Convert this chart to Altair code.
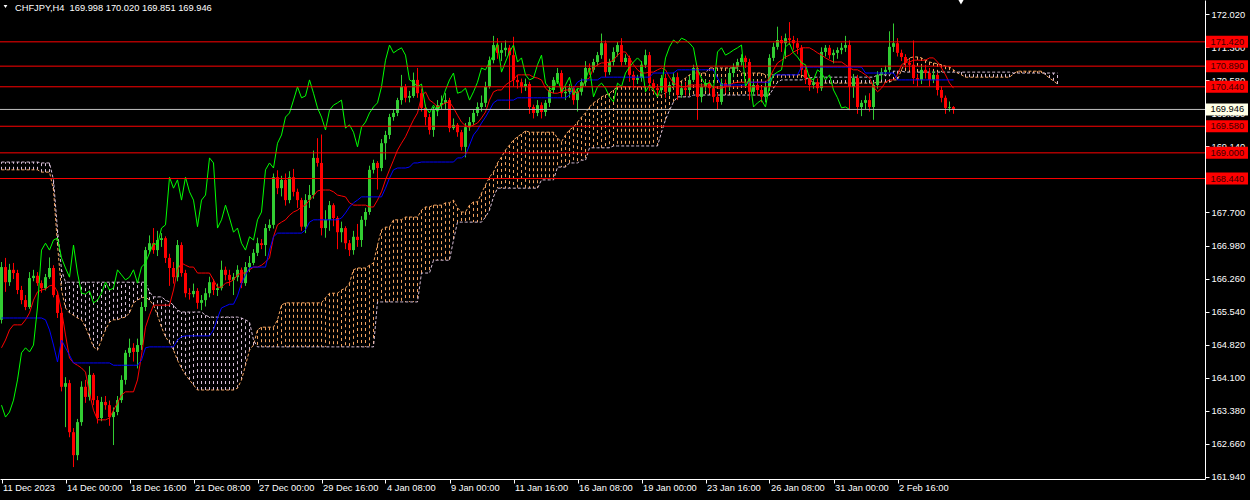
import json
import altair as alt
import pandas as pd

# ---- page: black background, no white margin around the chart ----
try:
    import altair.utils.html as _html
    _std_template = _html.TEMPLATES["standard"]

    class _BlackPage:
        def render(self, *args, **kwargs):
            out = _std_template.render(*args, **kwargs)
            css = "html, body { margin: 0; padding: 0; background: #000000; overflow: hidden; }\n"
            if "<style>" in out:
                return out.replace("<style>", "<style>\n" + css, 1)
            return out.replace("</head>", "<style>" + css + "</style></head>", 1)

    _html.TEMPLATES["standard"] = _BlackPage()
except Exception:
    pass

# ---------------- data ----------------
title_text = "CHFJPY,H4\u00a0 169.998 170.020 169.851 169.946"
first_open = 165.36

close = [
    166.51, 166.18, 166.45, 166.38, 166.01, 165.79, 165.64, 166.27, 166.32, 166.16,
    166.05, 166.29, 166.49, 165.90, 165.51, 163.90, 163.98, 162.91, 162.41, 163.13,
    163.90, 163.68, 164.16, 163.61, 163.22, 163.57, 163.50, 163.24, 163.35, 163.61,
    164.05, 164.64, 164.75, 164.66, 164.81, 165.64, 166.88, 167.03, 166.88, 167.10,
    167.14, 166.71, 166.49, 166.29, 166.99, 166.38, 165.94, 165.92, 165.99, 165.73,
    165.79, 165.94, 166.18, 166.01, 166.05, 166.45, 166.34, 166.23, 166.29, 166.45,
    166.16, 166.51, 166.60, 166.82, 167.03, 166.99, 167.36, 167.43, 168.47, 168.23,
    168.41, 167.97, 168.47, 168.15, 167.97, 167.39, 167.97, 168.08, 168.89, 168.78,
    167.36, 167.54, 167.86, 167.58, 167.27, 167.36, 167.03, 166.88, 167.17, 167.10,
    167.54, 167.71, 168.63, 168.78, 168.67, 169.21, 169.39, 169.78, 169.87, 170.15,
    170.44, 170.20, 170.24, 170.59, 170.30, 169.98, 169.78, 169.50, 169.93, 170.04,
    170.09, 170.15, 169.54, 169.61, 169.45, 169.13, 169.56, 169.67, 169.87, 170.00,
    170.09, 170.44, 171.02, 171.35, 171.18, 171.24, 171.29, 171.13, 170.59, 170.54,
    170.44, 170.50, 170.00, 169.87, 170.04, 169.89, 170.09, 170.37, 170.59, 170.74,
    170.30, 170.33, 170.41, 170.15, 170.33, 170.54, 170.85, 170.81, 170.98, 171.13,
    171.39, 170.76, 170.98, 171.20, 171.35, 170.98, 171.07, 170.70, 170.59, 170.63,
    170.92, 171.13, 170.52, 170.41, 170.37, 170.63, 170.33, 170.48, 170.65, 170.26,
    170.41, 170.37, 170.59, 170.85, 170.22, 170.44, 170.52, 170.41, 170.22, 170.11,
    170.52, 170.44, 170.74, 170.87, 170.98, 171.07, 170.98, 170.33, 170.48, 170.37,
    170.22, 170.44, 171.07, 171.31, 171.46, 171.39, 171.50, 171.46, 171.39, 171.29,
    170.81, 170.63, 170.48, 170.54, 170.41, 171.20, 171.29, 171.13, 171.18, 171.24,
    171.29, 171.35, 170.44, 170.63, 170.00, 170.09, 170.15, 170.00, 170.48, 170.70,
    170.76, 170.81, 171.31, 171.39, 171.18, 171.09, 170.96, 170.92, 170.63, 170.59,
    170.81, 170.74, 170.59, 170.70, 170.37, 170.20, 169.98, 170.00, 169.946,
]

high = [
    166.62, 166.71, 166.58, 166.60, 166.45, 166.10, 165.90, 166.40, 166.45, 166.40,
    166.22, 166.36, 166.72, 166.55, 165.98, 165.62, 164.11, 164.05, 163.00, 163.20,
    164.02, 164.05, 164.35, 164.20, 163.70, 163.68, 163.70, 163.60, 163.45, 163.70,
    164.15, 164.70, 164.95, 164.85, 164.95, 165.75, 166.95, 167.20, 167.36, 167.30,
    167.25, 167.18, 166.80, 166.62, 167.10, 167.05, 166.45, 166.05, 166.15, 166.05,
    165.90, 166.05, 166.30, 166.25, 166.15, 166.65, 166.52, 166.45, 166.38, 166.55,
    166.50, 166.62, 166.75, 166.90, 167.15, 167.12, 167.45, 167.55, 168.55, 168.62,
    168.50, 168.55, 168.60, 168.65, 168.22, 168.02, 168.10, 168.30, 169.05, 169.32,
    169.40, 167.75, 167.95, 167.90, 167.62, 167.50, 167.40, 167.10, 167.30, 167.45,
    167.62, 167.80, 168.72, 168.85, 168.82, 169.30, 169.48, 169.85, 169.95, 170.20,
    170.70, 170.50, 170.35, 170.75, 170.85, 170.40, 170.05, 169.85, 170.00, 170.15,
    170.25, 170.30, 170.20, 169.75, 169.65, 169.50, 169.65, 169.78, 169.95, 170.10,
    170.25, 170.55, 171.10, 171.55, 171.50, 171.40, 171.45, 171.35, 171.53, 170.70,
    170.62, 170.62, 170.55, 170.05, 170.15, 170.10, 170.15, 170.45, 170.65, 170.85,
    170.80, 170.45, 170.50, 170.45, 170.40, 170.62, 171.00, 170.95, 171.05, 171.20,
    171.60, 171.45, 171.05, 171.30, 171.42, 171.50, 171.15, 171.12, 170.78, 170.70,
    171.00, 171.25, 171.20, 170.60, 170.50, 170.70, 170.72, 170.55, 170.75, 170.75,
    170.50, 170.55, 170.68, 170.92, 170.90, 170.52, 170.60, 170.58, 170.45, 170.30,
    170.62, 170.60, 170.85, 170.95, 171.05, 171.15, 171.12, 171.05, 170.60, 170.55,
    170.45, 170.52, 171.15, 171.40, 171.75, 171.55, 171.60, 171.85, 171.55, 171.50,
    171.35, 170.90, 170.70, 170.62, 170.62, 171.30, 171.35, 171.35, 171.25, 171.30,
    171.40, 171.55, 171.45, 170.72, 170.70, 170.15, 170.25, 170.30, 170.55, 170.78,
    170.85, 170.90, 171.65, 171.82, 171.50, 171.25, 171.15, 171.05, 171.45, 170.72,
    170.90, 170.92, 170.85, 170.78, 170.75, 170.45, 170.25, 170.12, 170.020,
]

low = [
    165.28, 165.97, 166.10, 166.25, 165.92, 165.70, 165.57, 165.60, 166.20, 166.10,
    165.95, 166.00, 166.25, 165.85, 165.40, 163.80, 163.02, 162.80, 162.15, 162.30,
    163.05, 163.55, 163.60, 163.50, 163.10, 163.15, 163.40, 163.05, 162.63, 163.28,
    163.55, 163.95, 164.55, 164.45, 164.30, 164.70, 165.55, 166.80, 166.80, 166.75,
    166.95, 166.60, 166.10, 166.15, 166.20, 166.30, 165.85, 165.80, 165.85, 165.60,
    165.57, 165.65, 165.85, 165.90, 165.88, 166.00, 166.22, 166.10, 165.90, 166.20,
    166.05, 166.10, 166.40, 166.55, 166.75, 166.90, 166.75, 167.30, 167.35, 168.10,
    168.05, 167.85, 167.90, 168.05, 167.80, 167.30, 167.25, 167.80, 168.00, 168.70,
    167.20, 167.15, 167.30, 167.40, 166.90, 167.05, 166.90, 166.75, 166.78, 166.95,
    166.95, 167.40, 167.65, 168.55, 168.20, 168.60, 168.85, 169.30, 169.70, 169.80,
    170.05, 170.10, 170.10, 170.20, 170.20, 169.90, 169.60, 169.40, 169.35, 169.80,
    169.95, 169.95, 169.45, 169.50, 169.35, 169.05, 168.90, 169.48, 169.60, 169.80,
    169.90, 170.00, 170.40, 170.95, 171.05, 171.00, 171.10, 169.93, 170.45, 170.40,
    170.30, 170.35, 169.85, 169.75, 169.80, 169.75, 169.80, 170.00, 170.30, 170.50,
    170.20, 170.15, 170.20, 170.05, 169.90, 170.25, 170.45, 170.70, 170.75, 170.90,
    171.05, 170.65, 170.70, 170.90, 171.10, 170.90, 170.92, 170.55, 170.40, 170.50,
    170.55, 170.85, 170.35, 170.30, 170.25, 170.30, 170.20, 170.25, 170.40, 170.15,
    170.20, 170.25, 170.30, 170.55, 169.72, 170.10, 170.35, 170.30, 170.10, 169.95,
    170.05, 170.30, 170.35, 170.65, 170.80, 170.90, 170.85, 170.15, 170.25, 170.25,
    170.10, 170.10, 170.35, 171.00, 171.25, 171.20, 171.05, 171.35, 171.25, 171.15,
    170.70, 170.50, 170.35, 170.40, 170.30, 170.35, 171.10, 171.05, 170.95, 171.05,
    171.15, 171.20, 169.93, 170.20, 169.85, 169.80, 169.95, 169.90, 169.72, 170.40,
    170.60, 170.70, 170.75, 171.20, 171.10, 171.00, 170.85, 170.80, 170.50, 170.45,
    170.50, 170.62, 170.45, 170.52, 170.25, 170.10, 169.85, 169.90, 169.851,
]

# Ichimoku lines as [value, number of bars] runs
tenkan_runs = [
    [164.75, 1], [164.92, 1], [165.14, 1], [165.25, 3], [165.36, 1], [165.51, 1], [165.79, 1],
    [165.97, 1], [166.01, 1], [166.03, 1], [166.10, 1], [166.12, 1], [165.97, 1], [165.57, 1],
    [165.03, 1], [164.53, 1], [164.42, 1], [164.37, 1], [164.31, 1], [164.22, 1], [163.76, 1],
    [163.39, 1], [163.18, 3], [163.22, 1], [163.39, 1], [163.55, 1], [163.72, 1], [163.79, 3],
    [164.05, 1], [164.59, 1], [165.20, 1], [165.46, 1], [165.68, 5], [166.01, 1], [166.45, 1],
    [166.60, 1], [166.55, 1], [166.51, 2], [166.38, 4], [166.23, 1], [166.07, 2], [166.16, 1],
    [166.18, 1], [166.23, 1], [166.34, 1], [166.38, 2], [166.45, 1], [166.51, 2], [166.55, 1],
    [166.62, 1], [166.71, 1], [167.17, 1], [167.43, 1], [167.49, 1], [167.54, 1], [167.64, 1],
    [167.71, 1], [167.75, 1], [167.82, 1], [167.86, 1], [167.97, 1], [168.06, 1], [168.17, 1],
    [168.19, 3], [168.15, 1], [168.08, 1], [168.06, 1], [168.04, 1], [167.91, 1], [167.86, 4],
    [167.82, 2], [167.97, 1], [168.15, 1], [168.41, 1], [168.63, 1], [168.84, 1], [169.06, 1],
    [169.21, 1], [169.35, 1], [169.54, 1], [169.72, 1], [169.87, 1], [170.22, 1], [170.33, 1],
    [170.15, 1], [170.09, 1], [170.00, 1], [170.04, 1], [170.09, 1], [170.11, 1], [169.98, 1],
    [169.82, 1], [169.67, 1], [169.59, 1], [169.56, 1], [169.61, 1], [169.65, 1], [169.76, 1],
    [169.89, 1], [170.15, 1], [170.33, 1], [170.37, 2], [170.48, 1], [170.54, 1], [170.59, 1],
    [170.70, 4], [170.65, 1], [170.63, 1], [170.59, 1], [170.41, 1], [170.33, 1], [170.30, 2],
    [170.33, 1], [170.37, 2], [170.33, 1], [170.30, 1], [170.41, 1], [170.59, 1], [170.63, 1],
    [170.85, 1], [170.92, 1], [170.96, 2], [170.98, 1], [171.02, 1], [171.13, 1], [171.20, 2],
    [171.07, 1], [170.92, 1], [170.81, 1], [170.74, 2], [170.76, 2], [170.81, 1], [170.85, 1],
    [170.81, 1], [170.65, 1], [170.52, 1], [170.48, 1], [170.44, 2], [170.48, 6], [170.44, 1],
    [170.41, 2], [170.44, 1], [170.48, 1], [170.52, 1], [170.54, 8], [170.63, 1], [170.81, 1],
    [170.96, 1], [171.02, 1], [171.09, 1], [171.13, 1], [171.20, 1], [171.24, 1], [171.29, 3],
    [171.24, 1], [171.18, 1], [171.13, 1], [171.07, 1], [171.02, 1], [170.98, 3], [170.92, 1],
    [170.85, 1], [170.81, 2], [170.76, 1], [170.70, 1], [170.63, 1], [170.44, 1], [170.33, 1],
    [170.41, 1], [170.54, 1], [170.59, 2], [170.70, 1], [170.92, 1], [170.98, 2], [171.02, 4],
    [171.07, 2], [170.98, 1], [170.85, 1], [170.70, 1], [170.52, 1], [170.41, 1],
]

kijun_runs = [
    [165.40, 11], [165.36, 1], [165.14, 1], [164.81, 1], [164.44, 1], [164.92, 1], [164.75, 1],
    [164.59, 1], [164.42, 10], [164.37, 7], [164.48, 1], [164.75, 1], [164.77, 7], [164.92, 1],
    [164.99, 1], [165.01, 7], [165.14, 1], [165.40, 1], [165.62, 1], [165.66, 1], [165.70, 2],
    [165.88, 1], [166.16, 1], [166.34, 1], [166.49, 1], [166.51, 4], [166.88, 1], [167.17, 1],
    [167.25, 7], [167.32, 1], [167.49, 1], [167.54, 7], [167.58, 1], [167.69, 1], [167.82, 1],
    [167.91, 1], [167.97, 1], [168.04, 6], [168.23, 1], [168.45, 1], [168.63, 1], [168.67, 3],
    [168.69, 1], [168.78, 2], [168.80, 9], [168.89, 2], [168.95, 1], [169.17, 1], [169.39, 1],
    [169.50, 1], [169.65, 1], [169.78, 1], [169.93, 1], [170.09, 1], [170.15, 5], [170.20, 13],
    [170.26, 1], [170.41, 1], [170.54, 1], [170.59, 5], [170.65, 13], [170.74, 6], [170.81, 10],
    [170.63, 1], [170.48, 7], [170.54, 6], [170.70, 7], [170.87, 16], [170.74, 8], [170.59, 15],
]

span_a_runs = [
    [168.63, 10], [168.58, 3], [168.19, 1], [166.99, 1], [166.01, 1], [165.62, 1], [165.51, 1],
    [165.46, 1], [165.40, 1], [165.36, 1], [165.20, 1], [164.99, 1], [164.77, 1], [164.70, 1],
    [164.92, 1], [165.14, 1], [165.31, 1], [165.36, 2], [165.40, 1], [165.42, 1], [165.51, 1],
    [165.73, 1], [165.79, 1], [165.84, 1], [165.86, 1], [165.79, 1], [165.68, 1], [165.46, 1],
    [165.20, 1], [164.99, 1], [164.86, 1], [164.70, 1], [164.48, 1], [164.31, 1], [164.16, 1],
    [164.05, 1], [163.94, 1], [163.83, 10], [163.87, 1], [164.05, 1], [164.37, 1], [164.70, 1],
    [164.81, 1], [165.14, 1], [165.20, 4], [165.36, 1], [165.68, 1], [165.73, 10], [165.84, 1],
    [165.94, 3], [166.01, 1], [166.05, 1], [166.16, 1], [166.45, 1], [166.49, 3], [166.55, 1],
    [166.60, 1], [166.99, 1], [167.32, 1], [167.38, 2], [167.54, 3], [167.60, 4], [167.75, 1],
    [167.82, 2], [167.86, 3], [167.91, 2], [167.97, 1], [167.80, 1], [167.71, 2], [167.86, 1],
    [167.93, 2], [168.12, 1], [168.30, 1], [168.47, 1], [168.58, 1], [168.78, 1], [168.91, 1],
    [169.06, 1], [169.17, 1], [169.28, 1], [169.35, 1], [169.41, 1], [169.48, 1], [169.45, 7],
    [169.32, 1], [169.24, 1], [169.39, 1], [169.50, 1], [169.56, 1], [169.67, 1], [169.78, 1],
    [169.87, 1], [170.00, 1], [170.09, 1], [170.15, 1], [170.22, 1], [170.26, 1], [170.30, 1],
    [170.37, 1], [170.44, 9], [170.33, 1], [170.26, 2], [170.30, 1], [170.37, 1], [170.44, 1],
    [170.50, 1], [170.57, 1], [170.63, 1], [170.70, 1], [170.74, 4], [170.85, 8], [170.74, 6],
    [170.70, 10], [170.65, 1], [170.61, 1], [170.52, 16], [170.54, 4], [170.59, 2], [170.81, 1],
    [170.98, 1], [171.07, 1], [171.09, 2], [171.07, 1], [171.02, 1], [170.98, 1], [170.96, 1],
    [170.94, 1], [170.92, 1], [170.89, 1], [170.87, 1], [170.81, 1], [170.74, 1], [170.70, 1],
    [170.65, 12], [170.72, 1], [170.78, 7], [170.70, 1], [170.63, 1], [170.57, 1], [170.50, 1],
]

span_b_runs = [
    [168.80, 10], [168.78, 3], [168.41, 1], [167.32, 1], [166.45, 1], [166.18, 21], [165.97, 1],
    [165.86, 3], [165.79, 1], [165.75, 1], [165.68, 1], [165.57, 1], [165.53, 6], [165.46, 1],
    [165.42, 8], [165.40, 1], [165.36, 1], [165.31, 1], [164.92, 1], [164.77, 30], [165.75, 11],
    [166.38, 3], [166.66, 5], [167.10, 1], [167.49, 7], [167.60, 1], [167.75, 1], [168.04, 1],
    [168.23, 11], [168.41, 4], [168.69, 3], [168.78, 3], [168.84, 2], [169.11, 6], [169.15, 12],
    [169.45, 1], [169.72, 1], [169.93, 1], [170.11, 1], [170.22, 4], [170.26, 20], [170.41, 1],
    [170.54, 1], [170.59, 6], [170.61, 1], [170.63, 1], [170.65, 16], [170.70, 4], [170.78, 3],
    [170.76, 27], [170.74, 12],
]

chikou_shift = 26
level_prices = [171.42, 170.89, 170.44, 169.58, 169.00, 168.44]
bid_price = 169.946
price_ticks = [161.94, 162.66, 163.38, 164.10, 164.82, 165.54, 166.26, 166.98,
               167.70, 168.42, 169.14, 169.86, 170.58, 171.30, 172.02]
time_labels = ["11 Dec 2023", "14 Dec 00:00", "18 Dec 16:00", "21 Dec 08:00",
               "27 Dec 00:00", "29 Dec 16:00", "4 Jan 08:00", "9 Jan 00:00",
               "11 Jan 16:00", "16 Jan 08:00", "19 Jan 00:00", "23 Jan 16:00",
               "26 Jan 08:00", "31 Jan 00:00", "2 Feb 16:00"]
bars_per_label = 16

# ---------------- colours ----------------
BULL, BEAR = "#32CD32", "#FF0000"
CLOUD_UP, CLOUD_DOWN = "#F4A460", "#D8BFD8"
TENKAN, KIJUN, CHIKOU = "#FF0000", "#0000FF", "#00FF00"

# ---------------- tables ----------------
def expand(runs):
    return [v for v, n in runs for _ in range(n)]

tenkan = expand(tenkan_runs)
kijun = expand(kijun_runs)
span_a = expand(span_a_runs)
span_b = expand(span_b_runs)

opens = [first_open] + close[:-1]
n = len(close)
candles = pd.DataFrame({"i": list(range(n)), "o": opens, "h": high, "l": low, "c": close})
bull_df = candles[candles["c"] >= candles["o"]]
bear_df = candles[candles["c"] < candles["o"]]

tenkan_df = pd.DataFrame({"i": list(range(len(tenkan))), "v": tenkan})
kijun_df = pd.DataFrame({"i": list(range(len(kijun))), "v": kijun})
chikou_df = pd.DataFrame({"i": list(range(n - chikou_shift)), "v": close[chikou_shift:]})
cloud_df = pd.DataFrame({"i": list(range(len(span_a))), "a": span_a, "b": span_b})
cloud_up_df = cloud_df[cloud_df["a"] >= cloud_df["b"]]
cloud_down_df = cloud_df[cloud_df["a"] < cloud_df["b"]]

box_half = 0.131
red_box_df = pd.DataFrame({"p": level_prices, "txt": [f"{v:.3f}" for v in level_prices]})
red_box_df["hi"] = red_box_df["p"] + box_half
red_box_df["lo"] = red_box_df["p"] - box_half
bid_box_df = pd.DataFrame({"p": [bid_price], "txt": [f"{bid_price:.3f}"]})
bid_box_df["hi"] = bid_box_df["p"] + box_half
bid_box_df["lo"] = bid_box_df["p"] - box_half

# ---------------- scales & axes ----------------
FONT = "Liberation Sans"
FS = 9.3
WHITE = "#FFFFFF"

xs = alt.Scale(domain=[-0.375, 300.875], nice=False, zero=False)
ys = alt.Scale(domain=[161.89, 172.332], nice=False, zero=False)

label_expr = json.dumps(time_labels) + f"[round(datum.value / {bars_per_label})]"
x_axis = alt.Axis(
    values=[bars_per_label * k for k in range(len(time_labels))],
    labelExpr=label_expr, title="", orient="bottom", grid=False,
    labelAlign="left", labelOffset=1, labelPadding=0, tickSize=4,
    labelOverlap=False, labelFlush=False, labelBound=False,
    domainColor=WHITE, tickColor=WHITE, labelColor=WHITE,
    labelFont=FONT, labelFontSize=FS,
)
y_axis = alt.Axis(
    values=price_ticks, format=".3f", title="", orient="right", grid=False,
    labelAlign="left", labelPadding=2, tickSize=4,
    labelOverlap=False, labelFlush=False, labelBound=False,
    domainColor=WHITE, tickColor=WHITE, labelColor=WHITE,
    labelFont=FONT, labelFontSize=FS,
)

def X(field="i"):
    return alt.X(f"{field}:Q", scale=xs, axis=x_axis)

def Y(field):
    return alt.Y(f"{field}:Q", scale=ys, axis=y_axis)

# ---------------- layers ----------------
def hatch(df, colour):
    return alt.Chart(df).mark_rule(strokeWidth=1, strokeDash=[3, 3], color=colour).encode(
        x=X(), y=Y("a"), y2=alt.Y2("b:Q"))

hatch_up = hatch(cloud_up_df, CLOUD_UP)
hatch_down = hatch(cloud_down_df, CLOUD_DOWN)
edge_a = alt.Chart(cloud_df).mark_line(strokeWidth=1, strokeDash=[3, 2], color=CLOUD_UP).encode(
    x=X(), y=Y("a"))
edge_b = alt.Chart(cloud_df).mark_line(strokeWidth=1, strokeDash=[3, 2], color=CLOUD_DOWN).encode(
    x=X(), y=Y("b"))

def candle_layers(df, colour):
    wick = alt.Chart(df).mark_rule(strokeWidth=1, color=colour).encode(
        x=X(), y=Y("l"), y2=alt.Y2("h:Q"))
    body = alt.Chart(df).mark_rule(strokeWidth=3, color=colour).encode(
        x=X(), y=Y("o"), y2=alt.Y2("c:Q"))
    return [wick, body]

tenkan_line = alt.Chart(tenkan_df).mark_line(color=TENKAN, strokeWidth=1).encode(x=X(), y=Y("v"))
kijun_line = alt.Chart(kijun_df).mark_line(color=KIJUN, strokeWidth=1).encode(x=X(), y=Y("v"))
chikou_line = alt.Chart(chikou_df).mark_line(color=CHIKOU, strokeWidth=1).encode(x=X(), y=Y("v"))

levels = alt.Chart(pd.DataFrame({"p": level_prices})).mark_rule(
    color="#FF0000", strokeWidth=1).encode(y=Y("p"))
bid = alt.Chart(pd.DataFrame({"p": [bid_price]})).mark_rule(
    color="#C0C0C0", strokeWidth=1).encode(y=Y("p"))

def price_box(df, fill, text_colour):
    box = alt.Chart(df).mark_rect(strokeWidth=0, color=fill).encode(
        x=alt.value(1206), x2=alt.value(1248), y=Y("hi"), y2=alt.Y2("lo:Q"))
    txt = alt.Chart(df).mark_text(
        align="left", baseline="middle", font=FONT, fontSize=FS, color=text_colour).encode(
        x=alt.value(1210.5), y=Y("p"), text="txt:N")
    return [box, txt]

title = alt.Chart(pd.DataFrame({"t": [title_text]})).mark_text(
    align="left", baseline="middle", font=FONT, fontSize=FS, color=WHITE).encode(
    x=alt.value(15), y=alt.value(7.5), text="t:N")
title_icon = alt.Chart(pd.DataFrame({"k": [0]})).mark_point(
    shape="triangle-down", filled=True, color=WHITE, size=14, opacity=1).encode(
    x=alt.value(5.5), y=alt.value(6.5))
shift_marker = alt.Chart(pd.DataFrame({"k": [0]})).mark_point(
    shape="triangle-down", filled=True, color=WHITE, size=45, opacity=1).encode(
    x=alt.value(961), y=alt.value(1.5))

chart = alt.layer(
    hatch_up, hatch_down, edge_a, edge_b,
    *candle_layers(bull_df, BULL), *candle_layers(bear_df, BEAR),
    tenkan_line, kijun_line, chikou_line,
    levels, bid,
    *price_box(red_box_df, "#FF0000", "#3A0000"),
    *price_box(bid_box_df, "#FFFFE6", "#000000"),
    title, title_icon, shift_marker,
).properties(
    width=1205, height=479,
    autosize=alt.AutoSizeParams(type="none"),
    padding={"left": 0, "top": 0, "right": 45, "bottom": 21},
    background="#000000",
).configure_view(strokeWidth=0, fill="#000000")

chart.save("out.html", embed_options={"renderer": "svg", "actions": False})
